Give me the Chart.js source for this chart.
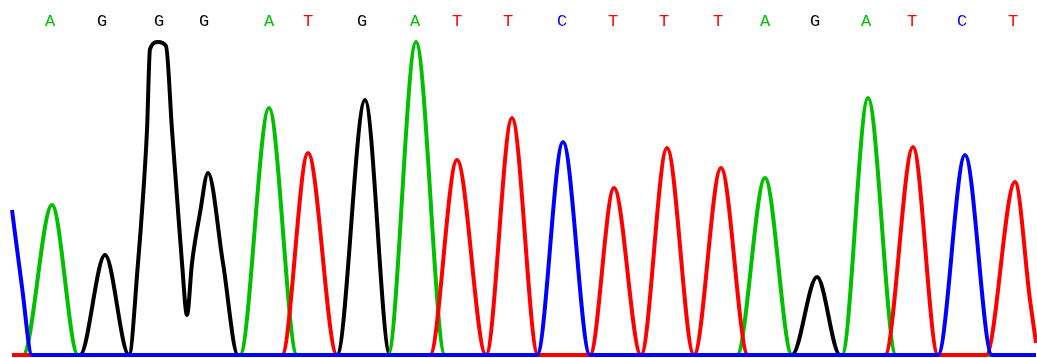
<!DOCTYPE html>
<html>
<head>
<meta charset="utf-8">
<script src="https://cdn.jsdelivr.net/npm/chart.js@4.4.1/dist/chart.umd.min.js"></script>
<style>
  body { margin: 0; background: #fff; }
  #wrap { width: 1037px; height: 358px; position: relative; }
</style>
</head>
<body>
<div id="wrap"><canvas id="trace"></canvas></div>
<script>
// base calls along the top, and where each one sits (scan position)
const calls = ['A','G','G','G','A','T','G','A','T','T','C','T','T','T','A','G','A','T','C','T'];
const callX = [50, 102, 159, 204, 269, 308, 362, 415, 457, 508, 562, 613, 664, 718, 765, 815, 866, 912, 962, 1013];

// one trace per base: [scan position, signal]
const traceC = [[12,145],[22,68],[32,0],[537,0],[563,213],[590,0],[938,0],[965,200],[992,0],[1036,0]];
const traceA = [[12,0],[23,0],[52,150],[78,0],[240,0],[269,247],[297,0],[388,0],[416,313],[445,0],
  [737,0],[765,177],[792,0],[842,0],[868,257],[896,0],[1036,0]];
const traceG = [[12,0],[80,0],[105,100],[129,0],[138,92],[143,158],[147,225],[150,306],[158,313],[166,309],
  [172,225],[177,158],[182,92],[187,40],[192,92],[200,142],[208,182],[223,92],[238,0],[337,0],[365,255],[390,0],
  [792,0],[817,78],[840,0],[1036,0]];
const traceT = [[12,0],[282,0],[308,202],[337,0],[430,0],[457,195],[486,0],[512,237],[538,0],[590,0],
  [614,167],[641,0],[667,207],[694,0],[721,187],[748,0],[885,0],[913,208],[938,0],[986,0],[1015,173],
  [1030,55],[1036,12]];

const baseColors = { A: '#00c000', C: '#0000ff', G: '#000000', T: '#ff0000' };

function toPoints(arr) {
  return arr.map(p => ({ x: p[0], y: p[1] }));
}

function traceSet(label, arr) {
  return {
    label: label,
    data: toPoints(arr),
    borderColor: baseColors[label],
    borderWidth: 4,
    pointRadius: 0,
    fill: false,
    cubicInterpolationMode: 'monotone'
  };
}

// first dataset is drawn on top: blue, then red, green, black underneath
const ctx = document.getElementById('trace').getContext('2d');
new Chart(ctx, {
  type: 'line',
  data: {
    datasets: [traceSet('C', traceC), traceSet('T', traceT), traceSet('A', traceA), traceSet('G', traceG)]
  },
  options: {
    responsive: true,
    maintainAspectRatio: false,
    animation: false,
    layout: { padding: 0 },
    plugins: { legend: { display: false }, tooltip: { enabled: false } },
    scales: {
      x: { type: 'linear', display: false, min: 0, max: 1037 },
      calls: {
        type: 'linear',
        position: 'top',
        axis: 'x',
        min: 0,
        max: 1037,
        grid: { display: false },
        border: { display: false },
        afterBuildTicks: scale => { scale.ticks = callX.map(v => ({ value: v })); },
        afterFit: scale => { scale.height = 32; },
        ticks: {
          autoSkip: false,
          maxRotation: 0,
          padding: -8,
          font: { family: "'Courier New', 'Liberation Mono', monospace", size: 17 },
          color: c => baseColors[calls[c.index]],
          callback: (v, i) => calls[i]
        }
      },
      y: { display: false, min: -3, max: 323 }
    }
  }
});
</script>
</body>
</html>
